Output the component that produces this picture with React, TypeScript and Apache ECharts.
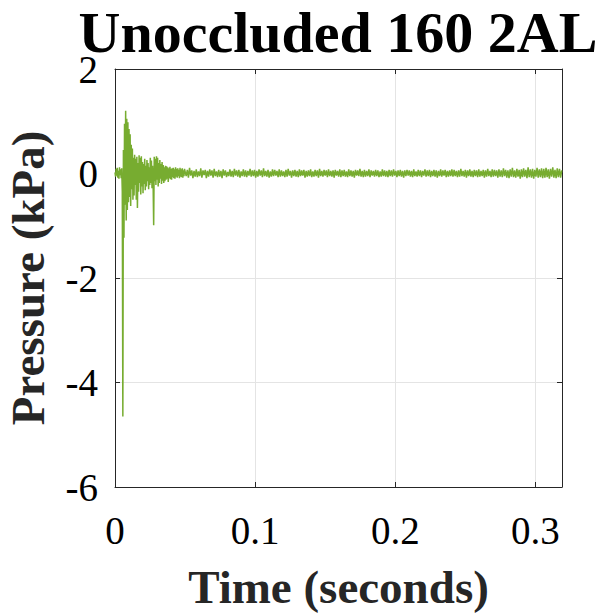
import React, { useEffect, useRef } from "react";
import * as echarts from "echarts";

const chartTitle = "Unoccluded 160 2AL";
const xAxisName = "Time (seconds)";
const yAxisName = "Pressure (kPa)";
const xMin = 0;
const xMax = 0.319;
const xInterval = 0.1;
const yMin = -6;
const yMax = 2;
const yInterval = 2;

// transient part, sampled from t = 0 s every 0.4 ms (kPa)
const transientStart = 0;
const transientStep = 0.0004;
const transientPressure = [
  0.02, -0.06, 0.09, -0.04, 0.11, -0.08, 0.05, -0.1, 0.12, -0.03,
  0.08, -0.09, 0.1, -0.35, -4.65, 0.45, -1.23, 0.95, -0.6, 1.2,
  -0.9, 1.05, -0.7, 0.98, -0.55, 0.85, -0.45, 0.75, -0.62, 0.55,
  -0.3, 0.48, -0.5, 0.3, -0.42, 0.36, -0.22, 0.28, -0.5, 0.32,
  -0.66, 0.2, -0.35, 0.35, -0.18, 0.3, -0.4, 0.33, -0.25, 0.22,
  -0.38, 0.18, -0.2, 0.28, -0.32, 0.15, -0.25, 0.26, -0.15, 0.2,
  -0.3, 0.12, -0.22, 0.3, -0.18, 0.25, -0.28, 0.15, -0.2, -0.99,
  0.32, -0.15, 0.28, -0.22, 0.33, -0.12, 0.3, -0.25, 0.2, -0.18,
  0.26, -0.1, 0.18, -0.2, 0.22, -0.14, 0.16, -0.18, 0.12, -0.15,
  0.15, -0.12, 0.14, -0.1, 0.12, -0.16, 0.1, -0.09, 0.13, -0.11,
  0.09, -0.12, 0.1, -0.07, 0.11, -0.09, 0.08, -0.1, 0.12, -0.06,
  0.09, -0.08, 0.1, -0.05, 0.07, -0.09, 0.11, -0.06, 0.08, -0.07,
  0.1, -0.08, 0.06, -0.05, 0.09,
];

// steady part, sampled from t = 0.05 s every 0.8 ms (kPa)
const steadyStart = 0.05;
const steadyStep = 0.0008;
const steadyPressure = [
  0.09, -0.05, 0.07, -0.08, 0.11, -0.04, 0.06, -0.09, 0.05, -0.06, 0.08, -0.07, 0.04, -0.05, 0.1, -0.08, 0.06, -0.03, 0.07, -0.09,
  0.05, -0.06, 0.08, -0.04, 0.06, -0.08, 0.09, -0.05, 0.04, -0.07, 0.07, -0.06, 0.05, -0.09, 0.08, -0.04, 0.06, -0.07, 0.03, -0.05,
  0.08, -0.06, 0.05, -0.07, 0.09, -0.04, 0.06, -0.06, 0.07, -0.08, 0.04, -0.05, 0.08, -0.06, 0.06, -0.07, 0.05, -0.04, 0.09, -0.06,
  0.06, -0.05, 0.07, -0.08, 0.05, -0.06, 0.08, -0.04, 0.06, -0.07, 0.1, -0.05, 0.05, -0.06, 0.07, -0.08, 0.04, -0.06, 0.08, -0.05,
  0.07, -0.04, 0.05, -0.07, 0.08, -0.06, 0.06, -0.05, 0.04, -0.07, 0.07, -0.06, 0.09, -0.04, 0.05, -0.08, 0.06, -0.05, 0.07, -0.06,
  0.05, -0.07, 0.08, -0.05, 0.06, -0.04, 0.07, -0.08, 0.05, -0.06, 0.06, -0.05, 0.08, -0.07, 0.04, -0.06, 0.07, -0.05, 0.06, -0.08,
  0.09, -0.05, 0.05, -0.06, 0.07, -0.04, 0.06, -0.07, 0.08, -0.05, 0.05, -0.06, 0.06, -0.08, 0.07, -0.04, 0.05, -0.06, 0.08, -0.07,
  0.06, -0.05, 0.07, -0.06, 0.04, -0.07, 0.08, -0.05, 0.06, -0.06, 0.05, -0.08, 0.07, -0.04, 0.06, -0.05, 0.09, -0.06, 0.05, -0.07,
  0.07, -0.06, 0.05, -0.05, 0.08, -0.07, 0.06, -0.04, 0.05, -0.06, 0.07, -0.05, 0.06, -0.07, 0.04, -0.06, 0.08, -0.05, 0.06, -0.06,
  0.05, -0.07, 0.07, -0.05, 0.06, -0.06, 0.08, -0.04, 0.05, -0.07, 0.06, -0.05, 0.07, -0.06, 0.05, -0.08, 0.06, -0.05, 0.07, -0.04,
  0.06, -0.06, 0.05, -0.07, 0.08, -0.05, 0.04, -0.06, 0.07, -0.05, 0.06, -0.07, 0.05, -0.04, 0.08, -0.06, 0.06, -0.05, 0.07, -0.07,
  0.05, -0.05, 0.07, -0.06, 0.06, -0.08, 0.05, -0.05, 0.08, -0.06, 0.06, -0.04, 0.07, -0.07, 0.05, -0.06, 0.06, -0.05, 0.08, -0.06,
  0.07, -0.05, 0.05, -0.07, 0.06, -0.06, 0.09, -0.05, 0.05, -0.06, 0.07, -0.08, 0.06, -0.05, 0.08, -0.06, 0.05, -0.07, 0.07, -0.05,
  0.06, -0.07, 0.08, -0.06, 0.05, -0.05, 0.07, -0.08, 0.06, -0.06, 0.09, -0.05, 0.05, -0.07, 0.08, -0.06, 0.07, -0.05, 0.06, -0.08,
  0.08, -0.06, 0.06, -0.07, 0.1, -0.05, 0.07, -0.08, 0.06, -0.09, 0.08, -0.06, 0.11, -0.07, 0.06, -0.08, 0.09, -0.06, 0.07, -0.1,
  0.08, -0.07, 0.1, -0.06, 0.07, -0.09, 0.12, -0.07, 0.08, -0.08, 0.09, -0.1, 0.07, -0.06, 0.11, -0.08, 0.08, -0.07, 0.1, -0.09,
  0.09, -0.08, 0.11, -0.07, 0.08, -0.1, 0.09, -0.06, 0.12, -0.08, 0.07, -0.09, 0.1, -0.07, 0.09, -0.08, 0.06,
];

const FONT = "Liberation Serif";
const AXIS_COLOR = "#262626";
const GRID_COLOR = "#e4e4e4";
const LINE_COLOR = "#77AC30";

export default function App() {
  const ref = useRef<HTMLDivElement>(null);

  useEffect(() => {
    if (!ref.current) return;
    const chart = echarts.init(ref.current, undefined, { renderer: "svg" });

    const data: [number, number][] = [];
    transientPressure.forEach((v, i) => {
      data.push([+(transientStart + i * transientStep).toFixed(6), v]);
    });
    steadyPressure.forEach((v, i) => {
      data.push([+(steadyStart + i * steadyStep).toFixed(6), v]);
    });

    const axisLine = { show: true, onZero: false, lineStyle: { color: AXIS_COLOR, width: 1 } };
    const axisTick = { show: true, inside: true, length: 5, lineStyle: { color: AXIS_COLOR, width: 1 } };

    chart.setOption({
      animation: false,
      backgroundColor: "#ffffff",
      title: {
        text: chartTitle,
        left: 338,
        textAlign: "center",
        top: 3,
        padding: 0,
        textStyle: { fontFamily: FONT, fontWeight: "bold", fontSize: 58, lineHeight: 58, color: "#000" },
      },
      grid: {
        left: 115,
        right: 43,
        top: 69,
        bottom: 126,
        containLabel: false,
        outerBoundsMode: "none",
      },
      xAxis: [
        {
          type: "value",
          position: "bottom",
          min: xMin,
          max: xMax,
          interval: xInterval,
          axisLine,
          axisTick,
          axisLabel: {
            fontFamily: FONT,
            fontSize: 39,
            color: "#000",
            margin: 24,
            showMaxLabel: false,
          },
          splitLine: { show: true, lineStyle: { color: GRID_COLOR, width: 1 } },
          name: xAxisName,
          nameLocation: "middle",
          nameGap: 76,
          nameTextStyle: { fontFamily: FONT, fontWeight: "bold", fontSize: 47, color: AXIS_COLOR },
        },
        {
          type: "value",
          position: "top",
          min: xMin,
          max: xMax,
          interval: xInterval,
          axisLine,
          axisTick,
          axisLabel: { show: false },
          splitLine: { show: false },
        },
      ],
      yAxis: [
        {
          type: "value",
          position: "left",
          min: yMin,
          max: yMax,
          interval: yInterval,
          axisLine,
          axisTick,
          axisLabel: { fontFamily: FONT, fontSize: 39, color: "#000", margin: 17 },
          splitLine: { show: true, lineStyle: { color: GRID_COLOR, width: 1 } },
          name: yAxisName,
          nameLocation: "middle",
          nameGap: 64,
          nameTextStyle: { fontFamily: FONT, fontWeight: "bold", fontSize: 47, color: AXIS_COLOR },
        },
        {
          type: "value",
          position: "right",
          min: yMin,
          max: yMax,
          interval: yInterval,
          axisLine,
          axisTick,
          axisLabel: { show: false },
          splitLine: { show: false },
        },
      ],
      series: [
        {
          type: "line",
          xAxisIndex: 0,
          yAxisIndex: 0,
          data,
          showSymbol: false,
          symbol: "none",
          silent: true,
          lineStyle: { color: LINE_COLOR, width: 1.5 },
        },
      ],
    });

    return () => chart.dispose();
  }, []);

  return (
    <div
      ref={ref}
      style={{ position: "fixed", left: 0, top: 0, width: 605, height: 613, background: "#fff" }}
    />
  );
}
